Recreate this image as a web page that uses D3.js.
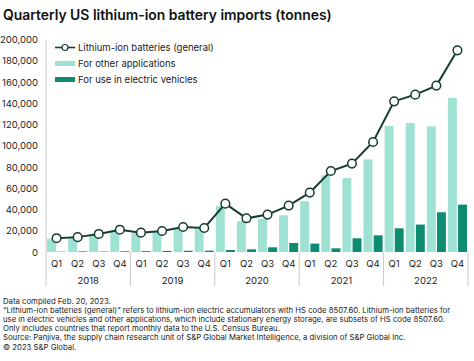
<!DOCTYPE html>
<html lang="en">
<head>
  <meta charset="UTF-8" />
  <title>Quarterly US lithium-ion battery imports</title>
  <script src="https://d3js.org/d3.v7.min.js"></script>
  <style>
    body {
      margin: 0;
      background: #fff;
      font-family: Inter, "Noto Sans", sans-serif;
    }
    svg { display: block; }
  </style>
</head>
<body>
  <div id="chart"></div>

  <script>
    // data (tonnes)
    const years = ["2018", "2019", "2020", "2021", "2022"];
    const quarters = ["Q1", "Q2", "Q3", "Q4"];
    const general = [13000, 14000, 17000, 21000, 18200, 19800, 23500, 22600,
      45500, 31700, 35200, 43700, 55900, 76200, 83200, 103500,
      141800, 148100, 156600, 189800];
    const otherApps = [12500, 13500, 16000, 19800, 18000, 18800, 22000, 22000,
      43300, 29200, 31400, 34500, 47800, 72200, 69600, 87200,
      118600, 121400, 118300, 145000];
    const evUse = [300, 600, 400, 700, 800, 1000, 1200, 1300,
      1900, 2500, 4400, 8500, 7900, 3500, 12900, 15700,
      22300, 25800, 37400, 44600];
    const yTicks = [0, 20000, 40000, 60000, 80000, 100000, 120000, 140000, 160000, 180000, 200000];
    const footnotes = [
      "Data compiled Feb. 20, 2023.",
      "\u201cLithium-ion batteries (general)\u201d refers to lithium-ion electric accumulators with HS code 8507.60.  Lithium-ion batteries for",
      "use in electric vehicles and other applications, which include stationary energy storage, are subsets of HS code 8507.60.",
      "Only includes countries that report monthly data to the U.S. Census Bureau.",
      "Source: Panjiva, the supply chain research unit of S&P Global Market Intelligence, a division of S&P Global Inc.",
      "\u00a9 2023 S&P Global."
    ];

    const colors = { light: "#9fe1d3", dark: "#0e8c71", line: "#173d33", axis: "#c8c8c8", text: "#222" };

    const W = 474, H = 361;
    const plot = { left: 46, right: 468, top: 40, bottom: 252 };

    const svg = d3.select("#chart").append("svg")
      .attr("width", W).attr("height", H);

    // title
    svg.append("text")
      .attr("x", 3).attr("y", 20)
      .attr("font-size", 13.9).attr("font-weight", 600)
      .attr("fill", "#111")
      .text("Quarterly US lithium-ion battery imports (tonnes)");

    const data = general.map((g, i) => ({
      key: years[Math.floor(i / 4)] + quarters[i % 4],
      q: quarters[i % 4],
      general: g, other: otherApps[i], ev: evUse[i]
    }));

    const x = d3.scaleBand()
      .domain(data.map(d => d.key))
      .range([plot.left, plot.right])
      .paddingInner(0).paddingOuter(0);

    const xs = d3.scaleBand()
      .domain(["other", "ev"])
      .range([0, x.bandwidth()])
      .paddingInner(0.12).paddingOuter(0.1);

    const y = d3.scaleLinear()
      .domain([0, 200000])
      .range([plot.bottom, plot.bottom - 212.5]);

    // y axis labels
    const yAxis = svg.append("g")
      .attr("transform", `translate(${plot.left},0)`)
      .call(d3.axisLeft(y).tickValues(yTicks).tickFormat(d3.format(",")).tickSize(0).tickPadding(8));
    yAxis.select(".domain").remove();
    yAxis.selectAll("text")
      .attr("font-family", "Inter, sans-serif")
      .attr("font-size", 9.5).attr("fill", colors.text);

    // vertical axis line + year separators
    svg.append("line")
      .attr("x1", plot.left).attr("x2", plot.left)
      .attr("y1", 40).attr("y2", 286)
      .attr("stroke", colors.axis).attr("stroke-width", 1);

    years.forEach((yr, i) => {
      const x0 = x(yr + "Q1");
      const x1 = x(yr + "Q4") + x.bandwidth();
      svg.append("line")
        .attr("x1", x1).attr("x2", x1)
        .attr("y1", plot.bottom).attr("y2", 286)
        .attr("stroke", colors.axis).attr("stroke-width", 1);
      svg.append("text")
        .attr("x", (x0 + x1) / 2).attr("y", 284)
        .attr("text-anchor", "middle")
        .attr("font-size", 9.5).attr("fill", colors.text)
        .text(yr);
    });

    // quarter labels
    svg.append("g").selectAll("text")
      .data(data)
      .join("text")
      .attr("x", d => x(d.key) + x.bandwidth() / 2)
      .attr("y", 267)
      .attr("text-anchor", "middle")
      .attr("font-size", 9.5).attr("fill", colors.text)
      .text(d => d.q);

    // bars
    const groups = svg.append("g").selectAll("g")
      .data(data)
      .join("g")
      .attr("transform", d => `translate(${x(d.key)},0)`);

    groups.append("rect")
      .attr("x", xs("other"))
      .attr("y", d => y(d.other))
      .attr("width", xs.bandwidth())
      .attr("height", d => y(0) - y(d.other))
      .attr("fill", colors.light);

    groups.append("rect")
      .attr("x", xs("ev"))
      .attr("y", d => y(d.ev))
      .attr("width", xs.bandwidth())
      .attr("height", d => y(0) - y(d.ev))
      .attr("fill", colors.dark);

    // general line
    const line = d3.line()
      .x(d => x(d.key) + x.bandwidth() / 2)
      .y(d => y(d.general));

    svg.append("path")
      .datum(data)
      .attr("d", line)
      .attr("fill", "none")
      .attr("stroke", colors.line)
      .attr("stroke-width", 2);

    svg.append("g").selectAll("circle")
      .data(data)
      .join("circle")
      .attr("cx", d => x(d.key) + x.bandwidth() / 2)
      .attr("cy", d => y(d.general))
      .attr("r", 4.3)
      .attr("fill", "#fff")
      .attr("stroke", colors.line)
      .attr("stroke-width", 1.5);

    // legend
    const legend = svg.append("g").attr("transform", "translate(55,0)");
    const legendItems = [
      { label: "Lithium-ion batteries (general)", type: "line", y: 47.5 },
      { label: "For other applications", type: "light", y: 63.5 },
      { label: "For use in electric vehicles", type: "dark", y: 79.5 }
    ];
    legendItems.forEach(item => {
      if (item.type === "line") {
        legend.append("line")
          .attr("x1", 0).attr("x2", 20)
          .attr("y1", item.y).attr("y2", item.y)
          .attr("stroke", colors.line).attr("stroke-width", 1.6);
        legend.append("circle")
          .attr("cx", 10).attr("cy", item.y).attr("r", 3)
          .attr("fill", "#fff").attr("stroke", colors.line).attr("stroke-width", 1.2);
      } else {
        legend.append("rect")
          .attr("x", 0).attr("y", item.y - 2.5)
          .attr("width", 20).attr("height", 5)
          .attr("fill", item.type === "light" ? colors.light : colors.dark);
      }
      legend.append("text")
        .attr("x", 23).attr("y", item.y + 3.5)
        .attr("font-size", 9.5).attr("fill", colors.text)
        .text(item.label);
    });

    // footnotes
    svg.append("g").selectAll("text")
      .data(footnotes)
      .join("text")
      .attr("x", 3)
      .attr("y", (d, i) => 304 + i * 9.1)
      .attr("font-size", 7.75)
      .attr("fill", colors.text)
      .text(d => d);
  </script>
</body>
</html>
